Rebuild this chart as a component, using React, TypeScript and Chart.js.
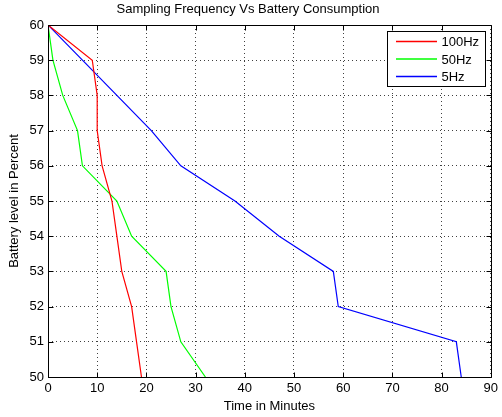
import React, { useEffect, useRef } from "react";
import { Chart, registerables } from "chart.js";

Chart.register(...registerables);

const levels = [60, 59, 58, 57, 56, 55, 54, 53, 52, 51, 50];
const time100Hz = [0, 9, 10, 10, 11, 13, 14, 15, 17, 18, 19];
const time50Hz = [0, 1, 3, 6, 7, 14, 17, 24, 25, 27, 32];
const time5Hz = [0, 7, 14, 21, 27, 38, 47, 58, 59, 83, 84];
const seriesLabels = ["100Hz", "50Hz", "5Hz"];
const seriesColors = ["#ff0000", "#00ff00", "#0000ff"];

const FONT = "'Liberation Sans', Arial, sans-serif";

const framePlugin = {
  id: "matlabFrame",
  afterDatasetsDraw(chart: any) {
    const { ctx, chartArea } = chart;
    const { left, right, top, bottom } = chartArea;
    const xs = chart.scales.x;
    const ys = chart.scales.y;
    ctx.save();
    ctx.strokeStyle = "#000";
    ctx.lineWidth = 1;
    ctx.setLineDash([]);
    ctx.beginPath();
    const L = Math.round(left) + 0.5;
    const R = Math.round(right) + 0.5;
    const T = Math.round(top) + 0.5;
    const B = Math.round(bottom) + 0.5;
    ctx.rect(L, T, R - L, B - T);
    const tl = 5;
    xs.ticks.forEach((t: any) => {
      const px = Math.round(xs.getPixelForValue(t.value)) + 0.5;
      ctx.moveTo(px, B);
      ctx.lineTo(px, B - tl);
      ctx.moveTo(px, T);
      ctx.lineTo(px, T + tl);
    });
    ys.ticks.forEach((t: any) => {
      const py = Math.round(ys.getPixelForValue(t.value)) + 0.5;
      ctx.moveTo(L, py);
      ctx.lineTo(L + tl, py);
      ctx.moveTo(R, py);
      ctx.lineTo(R - tl, py);
    });
    ctx.stroke();

    // legend
    const w = 98;
    const h = 55;
    const lx = Math.round(right - 6 - w) + 0.5;
    const ly = Math.round(top + 6) + 0.5;
    ctx.fillStyle = "#fff";
    ctx.fillRect(lx, ly, w, h);
    ctx.strokeStyle = "#000";
    ctx.lineWidth = 1;
    ctx.strokeRect(lx, ly, w, h);
    ctx.font = `13px ${FONT}`;
    ctx.textBaseline = "middle";
    ctx.textAlign = "left";
    chart.data.datasets.forEach((ds: any, i: number) => {
      const cy = ly + 10 + i * 17.5;
      ctx.strokeStyle = ds.borderColor;
      ctx.lineWidth = 1.3;
      ctx.beginPath();
      ctx.moveTo(lx + 8.5, cy);
      ctx.lineTo(lx + 49.5, cy + 0.01);
      ctx.stroke();
      ctx.fillStyle = "#000";
      ctx.fillText(ds.label, lx + 54, cy + 1);
    });
    ctx.restore();
  },
};

export default function App() {
  const ref = useRef<HTMLCanvasElement>(null);
  useEffect(() => {
    if (!ref.current) return;
    const times = [time100Hz, time50Hz, time5Hz];
    const chart = new Chart(ref.current, {
      type: "line",
      data: {
        datasets: times.map((tArr, i) => ({
          label: seriesLabels[i],
          data: tArr.map((t, j) => ({ x: t, y: levels[j] })),
          borderColor: seriesColors[i],
          backgroundColor: seriesColors[i],
          borderWidth: 1.2,
          pointRadius: 0,
          tension: 0,
          fill: false,
        })),
      },
      options: {
        animation: false,
        responsive: false,
        maintainAspectRatio: false,
        layout: { padding: { left: 0, right: 6, top: 0, bottom: 0 }, autoPadding: false } as any,
        plugins: {
          legend: { display: false },
          tooltip: { enabled: false },
          title: {
            display: true,
            text: "Sampling Frequency Vs Battery Consumption",
            color: "#000",
            font: { family: FONT, size: 13, weight: "normal" },
            padding: { top: 2, bottom: 7.4 },
          },
        },
        scales: {
          x: {
            type: "linear",
            min: 0,
            max: 90,
            ticks: { stepSize: 10, color: "#000", padding: 4, font: { family: FONT, size: 13 }, maxRotation: 0 },
            grid: { color: "rgba(0,0,0,0.75)", drawTicks: false, lineWidth: 1 },
            border: { display: false, dash: [1, 3] },
            title: { display: true, text: "Time in Minutes", color: "#000", font: { family: FONT, size: 13 }, padding: { top: 0, bottom: 3 } },
            afterFit: (s: any) => { s.height = 40; },
          } as any,
          y: {
            type: "linear",
            min: 50,
            max: 60,
            ticks: { stepSize: 1, color: "#000", padding: 4, font: { family: FONT, size: 13 } },
            grid: { color: "rgba(0,0,0,0.75)", drawTicks: false, lineWidth: 1 },
            border: { display: false, dash: [1, 3] },
            title: { display: true, text: "Battery level in Percent", color: "#000", font: { family: FONT, size: 13 }, padding: { top: 7, bottom: 0 } },
            afterFit: (s: any) => { s.width = 48; },
          } as any,
        },
      },
      plugins: [framePlugin],
    });
    return () => chart.destroy();
  }, []);
  return (
    <div style={{ position: "fixed", left: 0, top: 0, width: 502, height: 417, background: "#fff" }}>
      <canvas ref={ref} width={502} height={417} style={{ width: 502, height: 417, display: "block" }} />
    </div>
  );
}
